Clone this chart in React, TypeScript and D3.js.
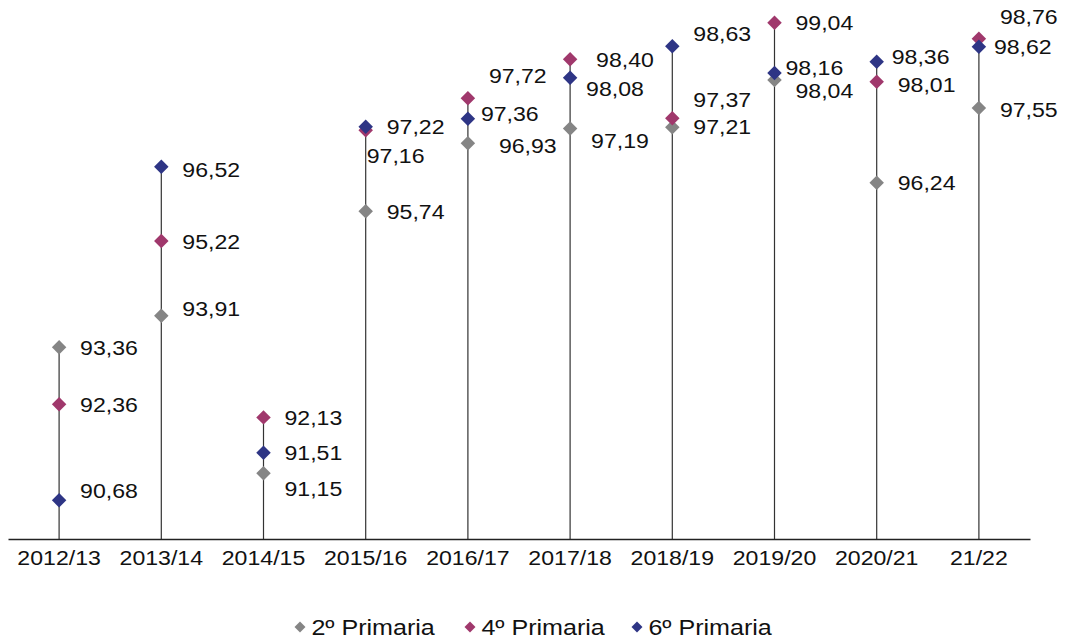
import { useEffect, useRef } from "react";
import * as d3 from "d3";

const years = ["2012/13", "2013/14", "2014/15", "2015/16", "2016/17", "2017/18", "2018/19", "2019/20", "2020/21", "21/22"];
const segundo = [93.36, 93.91, 91.15, 95.74, 96.93, 97.19, 97.21, 98.04, 96.24, 97.55];
const cuarto = [92.36, 95.22, 92.13, 97.16, 97.72, 98.40, 97.37, 99.04, 98.01, 98.76];
const sexto = [90.68, 96.52, 91.51, 97.22, 97.36, 98.08, 98.63, 98.16, 98.36, 98.62];
const seriesNames = ["2º Primaria", "4º Primaria", "6º Primaria"];
const colors = ["#858585", "#a0386c", "#2e3585"];

// label nudges [dx, dy] per series, per year (layout only)
const nudges: number[][][] = [
  [[0, 0], [0, -7], [0, 15], [0, 0], [10, 2], [0, 12], [0, -1], [0, 11], [0, 0], [0, 2]],
  [[0, 0], [0, 0], [0, 0], [-20, 25], [0, -23], [5, 0], [0, -19], [0, 0], [0, 3], [0, -22]],
  [[0, -10], [0, 3], [0, 0], [0, 0], [-8, -5], [-5, 11], [0, -13], [-10, -6], [-6, -5], [-6, 0]],
];

export default function App() {
  const ref = useRef<SVGSVGElement>(null);

  useEffect(() => {
    const svg = d3.select(ref.current);
    svg.selectAll("*").remove();
    const font = "Liberation Sans, Arial, sans-serif";

    const x = d3.scaleBand().domain(years).range([8, 1030]);
    const y = d3.scaleLinear().domain([90, 100]).range([539, -32]);
    const cx = (d: string) => (x(d) as number) + x.bandwidth() / 2;
    const all = [segundo, cuarto, sexto];

    // drop lines
    svg.append("g")
      .selectAll("line")
      .data(years)
      .join("line")
      .attr("x1", cx).attr("x2", cx)
      .attr("y1", y(90))
      .attr("y2", (d, i) => y(Math.max(segundo[i], cuarto[i], sexto[i])))
      .attr("stroke", "#333")
      .attr("stroke-width", 1.2);

    // x axis
    const xAxis = svg.append("g")
      .attr("transform", `translate(0,${y(90)})`)
      .call(d3.axisBottom(x).tickSize(0).tickPadding(11));
    xAxis.select(".domain").attr("stroke", "#222").attr("stroke-width", 1.5);
    xAxis.selectAll("text")
      .attr("font-family", font)
      .attr("font-size", 21)
      .attr("fill", "#111")
      .attr("transform", "scale(1.1,1)");

    const diamond = d3.symbol().type(d3.symbolSquare).size(105);

    all.forEach((vals, s) => {
      svg.append("g")
        .selectAll("path")
        .data(vals)
        .join("path")
        .attr("d", diamond)
        .attr("transform", (d, i) => `translate(${cx(years[i])},${y(d)}) rotate(45)`)
        .attr("fill", colors[s]);
    });

    all.forEach((vals, s) => {
      svg.append("g")
        .selectAll("text")
        .data(vals)
        .join("text")
        .attr("transform", (d, i) => `translate(${cx(years[i]) + 21 + nudges[s][i][0]},${y(d) + nudges[s][i][1]}) scale(1.1,1)`)
        .attr("dy", "0.36em")
        .attr("font-family", font)
        .attr("font-size", 21)
        .attr("fill", "#111")
        .text((d) => d.toFixed(2).replace(".", ","));
    });

    // legend
    const legendX = [300, 470, 637];
    const leg = svg.append("g").selectAll("g").data(seriesNames).join("g")
      .attr("transform", (d, i) => `translate(${legendX[i]},627)`);
    leg.append("path")
      .attr("d", d3.symbol().type(d3.symbolSquare).size(60))
      .attr("transform", "rotate(45)")
      .attr("fill", (d, i) => colors[i]);
    leg.append("text")
      .attr("x", 10)
      .attr("dy", "0.36em")
      .attr("font-family", font)
      .attr("font-size", 22)
      .attr("fill", "#111")
      .attr("transform", "scale(1.14,1)")
      .text((d) => d);
  }, []);

  return (
    <svg ref={ref} width={1065} height={641} style={{ position: "absolute", left: 0, top: 0, background: "#fff" }} />
  );
}
